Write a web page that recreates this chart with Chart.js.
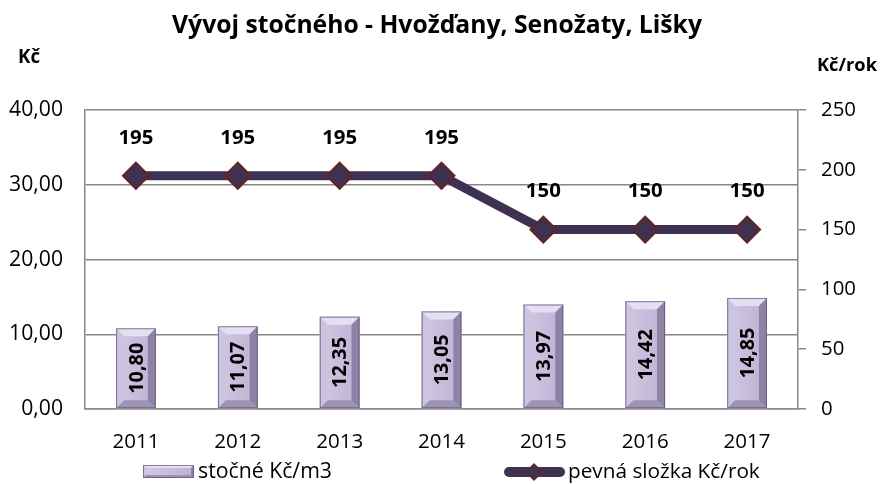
<!DOCTYPE html>
<html>
<head>
<meta charset="utf-8">
<script src="https://cdn.jsdelivr.net/npm/chart.js@4"></script>
<style>
html,body{margin:0;padding:0;background:#fff;}
canvas{display:block;}
</style>
</head>
<body>
<canvas id="c" width="885" height="484"></canvas>
<script>
const years = ['2011','2012','2013','2014','2015','2016','2017'];
const stocne = [10.80, 11.07, 12.35, 13.05, 13.97, 14.42, 14.85];
const pevna = [195, 195, 195, 195, 150, 150, 150];
const titleText = 'Vývoj stočného - Hvožďany, Senožaty, Lišky';
const leftAxisTitle = 'Kč';
const rightAxisTitle = 'Kč/rok';
const barLabel = 'stočné Kč/m3';
const lineLabel = 'pevná složka Kč/rok';

const FAM = '"Open Sans", Lato, sans-serif';
const fmt = v => v.toFixed(2).replace('.', ',');

const mc = document.createElement('canvas').getContext('2d');
function fit(text, w, bold) {
  mc.font = (bold ? 'bold ' : '') + '100px ' + FAM;
  return 100 * w / mc.measureText(text).width;
}
const S = {
  title: fit(titleText, 530, true),
  kc: fit(leftAxisTitle, 22, true),
  kcrok: fit(rightAxisTitle, 60, true),
  tickX: fit('2011', 47),
  tickL: fit('40,00', 54),
  tickR: fit('250', 35),
  leg1: fit(barLabel, 134),
  leg2: fit(lineLabel, 192),
  lineLbl: fit('195', 35, true),
  barLbl: fit('10,80', 51, true)
};

function poly(ctx, pts, fill) {
  ctx.beginPath();
  ctx.moveTo(pts[0][0], pts[0][1]);
  for (let i = 1; i < pts.length; i++) ctx.lineTo(pts[i][0], pts[i][1]);
  ctx.closePath();
  ctx.fillStyle = fill;
  ctx.fill();
}
function bevelBox(ctx, l, r, t, b, s) {
  const g = ctx.createLinearGradient(l, 0, r, 0);
  g.addColorStop(0, '#d2c9e4'); g.addColorStop(1, '#bcb1d3');
  ctx.fillStyle = g; ctx.fillRect(l, t, r - l, b - t);
  poly(ctx, [[l,t],[r,t],[r-s,t+s],[l+s,t+s]], '#e6dff3');
  poly(ctx, [[l,t],[l+s,t+s],[l+s,b-s],[l,b]], '#cdc4df');
  poly(ctx, [[r,t],[r,b],[r-s,b-s],[r-s,t+s]], '#8e82a7');
  poly(ctx, [[l,b],[r,b],[r-s,b-s],[l+s,b-s]], '#9e93b6');
  ctx.strokeStyle = 'rgba(90,80,110,0.7)'; ctx.lineWidth = 1;
  ctx.strokeRect(l + 0.5, t + 0.5, r - l - 1, b - t - 1);
}

const decor = {
  id: 'decor',
  afterDatasetDraw(chart, args) {
    if (args.index !== 1) return;
    const ctx = chart.ctx;
    ctx.save();
    args.meta.data.forEach(el => {
      const p = el.getProps(['x','y','base','width'], true);
      bevelBox(ctx, p.x - p.width/2, p.x + p.width/2, p.y, p.base, 8);
    });
    ctx.restore();
  },
  afterDraw(chart) {
    const ctx = chart.ctx;
    ctx.save();
    ctx.fillStyle = '#000';
    ctx.textBaseline = 'middle';
    // title
    ctx.font = 'bold ' + S.title + 'px ' + FAM;
    ctx.textAlign = 'center';
    ctx.fillText(titleText, 437, 26);
    // axis titles
    ctx.textAlign = 'left';
    ctx.font = 'bold ' + S.kc + 'px ' + FAM;
    ctx.fillText(leftAxisTitle, 18, 58);
    ctx.font = 'bold ' + S.kcrok + 'px ' + FAM;
    ctx.fillText(rightAxisTitle, 817, 66);
    // line labels
    ctx.font = 'bold ' + S.lineLbl + 'px ' + FAM;
    ctx.textAlign = 'center';
    const lm = chart.getDatasetMeta(0);
    lm.data.forEach((pt, i) => {
      ctx.fillText(String(pevna[i]), pt.x, pt.y - 38);
    });
    // bar labels
    ctx.font = 'bold ' + S.barLbl + 'px ' + FAM;
    const bm = chart.getDatasetMeta(1);
    bm.data.forEach((el, i) => {
      const p = el.getProps(['x','y','base'], true);
      ctx.save();
      ctx.translate(p.x + 1, (p.y + p.base) / 2);
      ctx.rotate(-Math.PI / 2);
      ctx.textAlign = 'center'; ctx.textBaseline = 'middle';
      ctx.fillText(fmt(stocne[i]), 0, 0);
      ctx.restore();
    });
    // legend
    const ly = 472;
    bevelBox(ctx, 143, 194, ly - 7, ly + 6, 3);
    ctx.textAlign = 'left'; ctx.textBaseline = 'middle';
    ctx.fillStyle = '#000';
    ctx.font = S.leg1 + 'px ' + FAM;
    ctx.fillText(barLabel, 198, ly);
    ctx.strokeStyle = '#3f3151'; ctx.lineWidth = 10; ctx.lineCap = 'round';
    ctx.beginPath(); ctx.moveTo(509, ly); ctx.lineTo(560, ly); ctx.stroke();
    ctx.beginPath();
    ctx.moveTo(534, ly - 8); ctx.lineTo(542, ly); ctx.lineTo(534, ly + 8); ctx.lineTo(526, ly); ctx.closePath();
    ctx.fillStyle = '#3f3151'; ctx.fill();
    ctx.strokeStyle = '#632523'; ctx.lineWidth = 1.5; ctx.stroke();
    ctx.fillStyle = '#000';
    ctx.font = S.leg2 + 'px ' + FAM;
    ctx.fillText(lineLabel, 568, ly);
    ctx.restore();
  }
};

new Chart(document.getElementById('c'), {
  data: {
    labels: years,
    datasets: [
      {
        type: 'line', label: lineLabel, data: pevna, yAxisID: 'y1', order: 0,
        borderColor: '#3f3151', borderWidth: 9, backgroundColor: '#3f3151',
        pointStyle: 'rectRot', pointRadius: 13, pointBorderColor: '#632523',
        pointBackgroundColor: '#3f3151', pointBorderWidth: 2, tension: 0
      },
      {
        type: 'bar', label: barLabel, data: stocne, yAxisID: 'y', order: 1,
        backgroundColor: '#c6bcda', borderWidth: 0,
        barPercentage: 0.39, categoryPercentage: 1
      }
    ]
  },
  options: {
    responsive: false, animation: false, devicePixelRatio: 1,
    layout: { padding: { top: 110, left: 0, right: 0, bottom: 0 } },
    plugins: { legend: { display: false }, tooltip: { enabled: false }, title: { display: false } },
    scales: {
      x: {
        grid: { display: false, drawTicks: false },
        border: { display: true, color: '#888', width: 1.5 },
        ticks: { color: '#000', font: { family: FAM, size: S.tickX }, padding: 21, maxRotation: 0 },
        afterFit(s) { s.height = 75; }
      },
      y: {
        position: 'left', min: 0, max: 40,
        grid: { color: '#888', lineWidth: 1.5, drawTicks: false },
        border: { display: true, color: '#888', width: 1.5 },
        ticks: { stepSize: 10, color: '#000', font: { family: FAM, size: S.tickL }, padding: 22, callback: v => fmt(v) },
        afterFit(s) { s.width = 85; }
      },
      y1: {
        position: 'right', min: 0, max: 250,
        grid: { drawOnChartArea: false, color: '#888', lineWidth: 1.5, tickLength: 8 },
        border: { display: true, color: '#888', width: 1.5 },
        ticks: { stepSize: 50, color: '#000', font: { family: FAM, size: S.tickR }, padding: 15 },
        afterFit(s) { s.width = 87; }
      }
    }
  },
  plugins: [decor]
});
</script>
</body>
</html>
